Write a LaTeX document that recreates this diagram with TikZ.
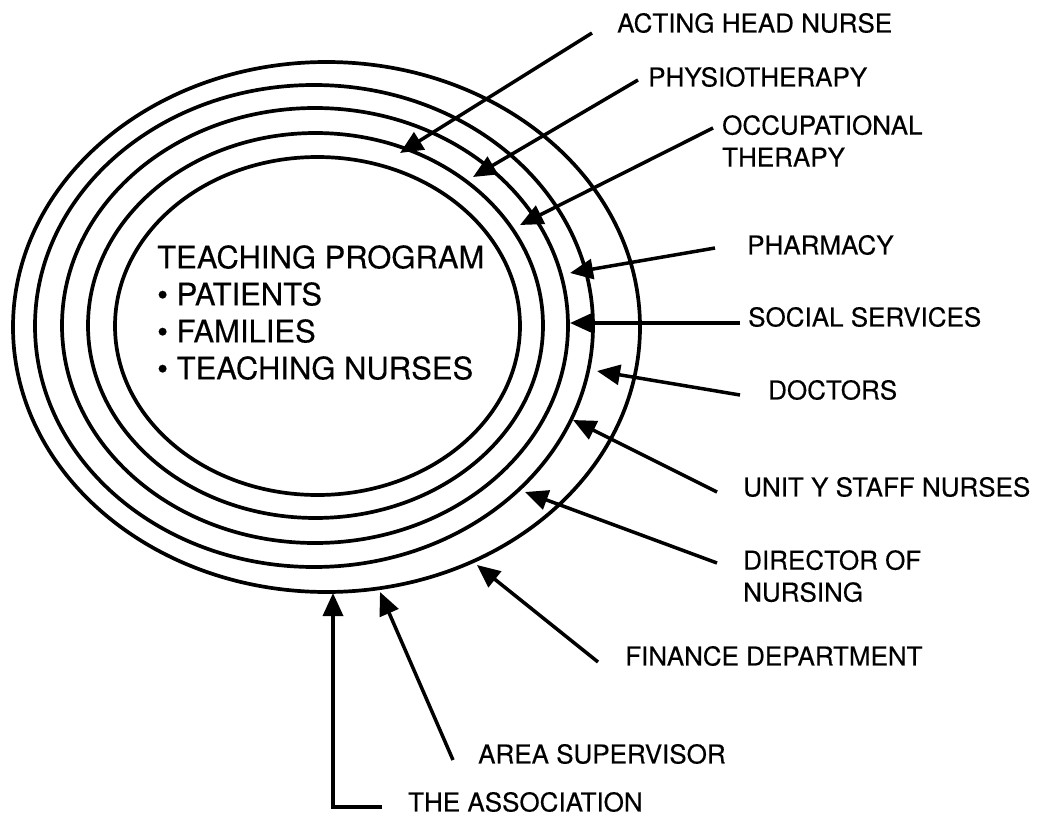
\documentclass[tikz,border=0pt]{standalone}
\usepackage{fontspec}
\setmainfont[FakeBold=0.3]{TeX Gyre Heros}
\usetikzlibrary{arrows.meta}
\begin{document}
\begin{tikzpicture}[x=1pt,y=-1pt,
  ring/.style={line width=3.7pt},
  feed/.style={line width=3.5pt,-{Triangle[length=23pt,width=20pt]}},
  lbl/.style={font=\fontsize{26}{32}\selectfont, inner sep=0pt, anchor=west},
  lbl2/.style={lbl, anchor=north west, align=left},
]
\useasboundingbox[fill=white] (0,0) rectangle (1039,816);

% five nested rings around the teaching programme
\draw[ring] (326.5,327) ellipse [x radius=313.5pt, y radius=265pt];
\draw[ring] (314,326) ellipse [x radius=279pt, y radius=241pt];
\draw[ring] (315,325.5) ellipse [x radius=253pt, y radius=217.5pt];
\draw[ring] (315.5,325.5) ellipse [x radius=227.5pt, y radius=192.5pt];
\draw[ring] (317.5,326) ellipse [x radius=202.5pt, y radius=169pt];

% centre text
\node[font=\fontsize{31}{37}\selectfont, inner sep=0pt, anchor=north west, align=left]
  (prog) at (157,245) {TEACHING PROGRAM\\\textbullet\ PATIENTS\\\textbullet\ FAMILIES\\\textbullet\ TEACHING NURSES};

% contributor labels
\node[lbl] (acting) at (617,23) {ACTING HEAD NURSE};
\node[lbl] (physio) at (648,77) {PHYSIOTHERAPY};
\node[lbl2] (occup) at (722,115) {OCCUPATIONAL\\THERAPY};
\node[lbl] (pharm) at (747,245) {PHARMACY};
\node[lbl] (social) at (748,317) {SOCIAL SERVICES};
\node[lbl] (doctors) at (768,390) {DOCTORS};
\node[lbl] (unity) at (743,487) {UNIT Y STAFF NURSES};
\node[lbl2] (director) at (743,550) {DIRECTOR OF\\NURSING};
\node[lbl] (finance) at (625,656) {FINANCE DEPARTMENT};
\node[lbl] (area) at (478,754) {AREA SUPERVISOR};
\node[lbl] (assoc) at (408,802) {THE ASSOCIATION};

% arrow tails (beside the labels) and tips (on the rings)
\coordinate (t1) at (592,33);   \coordinate (h1) at (400,153);
\coordinate (t2) at (638,80);   \coordinate (h2) at (473,177);
\coordinate (t3) at (713,128);  \coordinate (h3) at (520,225);
\coordinate (t4) at (715,248);  \coordinate (h4) at (570,273);
\coordinate (t5) at (740,323);  \coordinate (h5) at (570,323);
\coordinate (t6) at (740,395);  \coordinate (h6) at (597,371);
\coordinate (t7) at (717,492);  \coordinate (h7) at (573,420);
\coordinate (t8) at (717,563);  \coordinate (h8) at (525,492);
\coordinate (t9) at (598,662);  \coordinate (h9) at (477,565);
\coordinate (t10) at (453,760); \coordinate (h10) at (380,592);
\coordinate (t11) at (382,807); \coordinate (c11) at (333,807); \coordinate (h11) at (333,593);

\draw[feed] (t1) -- (h1);
\draw[feed] (t2) -- (h2);
\draw[feed] (t3) -- (h3);
\draw[feed] (t4) -- (h4);
\draw[feed] (t5) -- (h5);
\draw[feed] (t6) -- (h6);
\draw[feed] (t7) -- (h7);
\draw[feed] (t8) -- (h8);
\draw[feed] (t9) -- (h9);
\draw[feed] (t10) -- (h10);
\draw[feed] (t11) -- (c11) -- (h11);
\end{tikzpicture}
\end{document}
